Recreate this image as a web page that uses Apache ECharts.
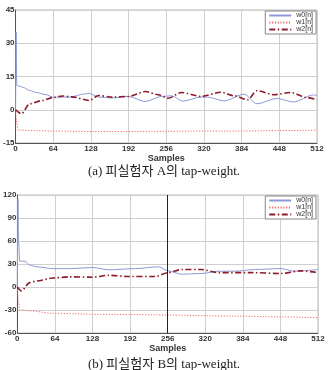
<!DOCTYPE html>
<html>
<head>
<meta charset="utf-8">
<script src="https://cdn.jsdelivr.net/npm/echarts@6/dist/echarts.min.js"></script>
<style>
  html, body { margin: 0; padding: 0; background: #fff; }
  #chart { width: 328px; height: 370px; }
</style>
</head>
<body>
<div id="chart"></div>
<script>
  // x tick labels shared by both panels
  const sampleTicks = [0, 64, 128, 192, 256, 320, 384, 448, 512]
  const seriesNames = ['w0[n]', 'w1[n]', 'w2[n]']

  // (a) subject A
  const aW0X = [0, 1, 2, 5, 12, 24, 35, 52, 63, 91, 119, 125, 141, 164, 192, 220, 248, 265, 284, 315, 326, 354, 388, 410, 444, 472, 506, 512]
  const aW0Y = [0, 35, 11, 10.8, 10.2, 8.7, 7.8, 6.8, 5.7, 5.7, 7.2, 7.4, 5.7, 5.3, 6, 3.7, 6, 6.3, 3.9, 5.7, 5.7, 4, 7, 2.7, 5.1, 3.5, 6.7, 6.4]
  const aW1X = [0, 2, 4, 30, 64, 128, 192, 256, 320, 384, 448, 512]
  const aW1Y = [0, -6, -9.2, -9.4, -9.6, -9.8, -9.8, -9.7, -9.6, -9.6, -9.4, -9.2]
  const aW2X = [0, 10, 24, 46, 63, 80, 96, 125, 141, 164, 192, 220, 242, 259, 282, 315, 349, 371, 394, 410, 439, 467, 495, 512]
  const aW2Y = [0, -1.8, 2.7, 4.2, 5.5, 6.2, 5.8, 4.2, 6.4, 5.7, 6, 8.2, 6.8, 5.2, 7.8, 6, 7.9, 6.3, 4.5, 8.6, 6.8, 7.8, 5.5, 4.5]

  // (b) subject B
  const bW0X = [0, 1, 2, 4, 13, 21, 33, 61, 89, 128, 156, 201, 241, 257, 280, 314, 342, 370, 404, 449, 471, 512]
  const bW0Y = [0, 115, 60, 33.7, 33.7, 28.5, 26.3, 24, 24, 25.4, 22.4, 24, 26.3, 21, 16.7, 17.6, 20.6, 20.6, 22.8, 24, 20.6, 22.8]
  const bW1X = [0, 2, 4, 20, 61, 128, 201, 256, 370, 448, 512]
  const bW1Y = [0, -20, -29.5, -31, -34.3, -35.5, -36, -36.5, -38, -39, -40]
  const bW2X = [0, 7, 21, 33, 61, 89, 128, 156, 190, 235, 257, 280, 314, 342, 398, 449, 482, 512]
  const bW2Y = [0, -5, 5.7, 7.8, 11.8, 13.2, 12.8, 15.3, 13.6, 13.6, 18.8, 22.8, 22.8, 18.8, 18.8, 17.6, 21, 18.8]

  const colors = ['#8e98d8', '#f06a6a', '#8b1c2c']
  const dashes = ['solid', [1.2, 1.6], [6, 2.5, 1.5, 2.5]]
  const widths = [1, 1, 1.6]

  const pairs = (xs, ys) => xs.map((x, i) => [x, ys[i]])

  const axisFont = { fontFamily: 'Liberation Sans, Arial, sans-serif', fontSize: 8, color: '#333', fontWeight: 'bold' }

  function xAxisFor (gridIndex) {
    return {
      gridIndex: gridIndex,
      type: 'value',
      min: sampleTicks[0],
      max: sampleTicks[sampleTicks.length - 1],
      interval: 64,
      name: 'Samples',
      nameLocation: 'middle',
      nameGap: 10,
      nameTextStyle: { fontFamily: 'Liberation Sans, Arial, sans-serif', fontSize: 9, fontWeight: 'bold', color: '#333' },
      axisLine: { onZero: false, lineStyle: { color: '#555', width: 1 } },
      axisTick: { show: false },
      axisLabel: Object.assign({ margin: 2 }, axisFont),
      splitLine: { lineStyle: { color: '#cfcfcf', width: 1 } }
    }
  }

  function yAxisFor (gridIndex, min, max, interval) {
    return {
      gridIndex: gridIndex,
      type: 'value',
      min: min,
      max: max,
      interval: interval,
      axisLine: { show: true, onZero: false, lineStyle: { color: '#555', width: 1 } },
      axisTick: { show: false },
      axisLabel: Object.assign({ margin: 1 }, axisFont),
      splitLine: { lineStyle: { color: '#cfcfcf', width: 1 } }
    }
  }

  function lineSeries (name, idx, gridIndex, data) {
    return {
      name: name,
      type: 'line',
      xAxisIndex: gridIndex,
      yAxisIndex: gridIndex,
      data: data,
      symbol: 'none',
      smooth: 0.3,
      smoothMonotone: 'x',
      animation: false,
      lineStyle: { color: colors[idx], type: dashes[idx], width: widths[idx] },
      itemStyle: { color: colors[idx] }
    }
  }

  function legendAt (top) {
    return {
      data: seriesNames,
      orient: 'vertical',
      right: 12,
      top: top,
      itemGap: 0,
      itemWidth: 22,
      itemHeight: 6,
      padding: [1, 3, 1, 3],
      backgroundColor: '#fff',
      borderColor: '#888',
      borderWidth: 1,
      borderRadius: 0,
      itemStyle: { opacity: 0 },
      textStyle: { fontFamily: 'Liberation Sans, Arial, sans-serif', fontSize: 7, color: '#333', padding: [0, 0, 0, 0] }
    }
  }

  const seriesB = [
    lineSeries('w0[n]', 0, 1, pairs(bW0X, bW0Y)),
    lineSeries('w1[n]', 1, 1, pairs(bW1X, bW1Y)),
    lineSeries('w2[n]', 2, 1, pairs(bW2X, bW2Y))
  ]
  // darker grid line at 256 in panel (b)
  seriesB[0].markLine = {
    silent: true,
    symbol: 'none',
    label: { show: false },
    lineStyle: { color: '#222', type: 'solid', width: 1 },
    data: [{ xAxis: 256 }]
  }

  const captionStyle = { fontFamily: 'Liberation Serif, Noto Sans CJK KR, serif', fontSize: 13, fontWeight: 'normal', color: '#222' }

  const chart = echarts.init(document.getElementById('chart'), null, { renderer: 'canvas' })
  chart.setOption({
    backgroundColor: '#fff',
    animation: false,
    title: [
      { text: '(a) 피실험자 A의 tap-weight.', left: 'center', top: 165, padding: 0, textStyle: captionStyle },
      { text: '(b) 피실험자 B의 tap-weight.', left: 'center', top: 358, padding: 0, textStyle: captionStyle }
    ],
    legend: [legendAt(11), legendAt(196)],
    grid: [
      { left: 13, right: 11, top: 10, height: 133, show: true, borderColor: '#bbb', borderWidth: 1 },
      { left: 14, right: 10, top: 195, height: 138, show: true, borderColor: '#bbb', borderWidth: 1 }
    ],
    xAxis: [xAxisFor(0), xAxisFor(1)],
    yAxis: [yAxisFor(0, -15, 45, 15), yAxisFor(1, -60, 120, 30)],
    series: [
      lineSeries('w0[n]', 0, 0, pairs(aW0X, aW0Y)),
      lineSeries('w1[n]', 1, 0, pairs(aW1X, aW1Y)),
      lineSeries('w2[n]', 2, 0, pairs(aW2X, aW2Y))
    ].concat(seriesB)
  })
</script>
</body>
</html>
